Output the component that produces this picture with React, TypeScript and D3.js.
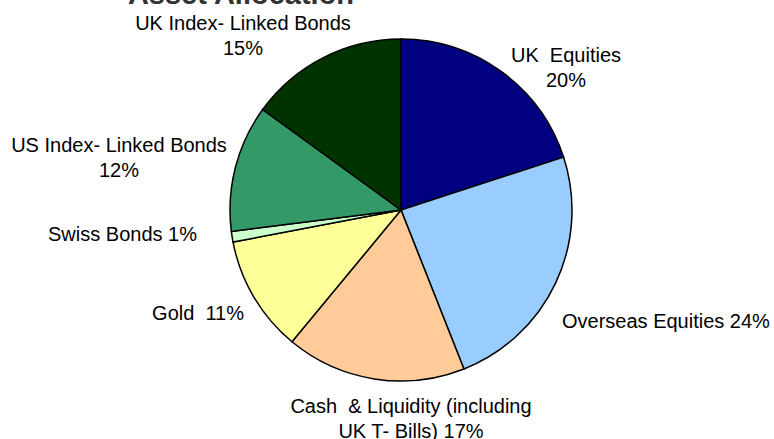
import React from "react";
import * as d3 from "d3";

const categories = [
  "UK Equities",
  "Overseas Equities",
  "Cash & Liquidity",
  "Gold",
  "Swiss Bonds",
  "US Index-Linked Bonds",
  "UK Index-Linked Bonds",
];
const values = [20, 24, 17, 11, 1, 12, 15];
const colors = ["#000080", "#99CCFF", "#FFCC99", "#FFFF99", "#CCFFCC", "#339966", "#003300"];
const labelLines = [
  ["UK  Equities", "20%"],
  ["Overseas Equities 24%"],
  ["Cash  & Liquidity (including", "UK T- Bills) 17%"],
  ["Gold  11%"],
  ["Swiss Bonds 1%"],
  ["US Index- Linked Bonds", "12%"],
  ["UK Index- Linked Bonds", "15%"],
];
// label anchor (x, first baseline y, text-anchor)
const labelPos: [number, number, string][] = [
  [566, 62, "middle"],
  [562, 328, "start"],
  [411, 413, "middle"],
  [244, 320, "end"],
  [197, 241, "end"],
  [119, 152, "middle"],
  [243, 30, "middle"],
];

export default function App() {
  const W = 774, H = 439;
  const cx = 401, cy = 210, r = 171;
  const pie = d3.pie<number>().sort(null).value((d) => d);
  const arcs = pie(values);
  const arc = d3.arc<d3.PieArcDatum<number>>().innerRadius(0).outerRadius(r);
  return (
    <svg width={W} height={H} style={{ position: "absolute", left: 0, top: 0, background: "#fff" }}
      fontFamily="'Liberation Sans', Arial, sans-serif">
      <text x={241} y={4} textAnchor="middle" fontSize={29} fontWeight="bold" fill="#333">
        Asset Allocation
      </text>
      <g transform={`translate(${cx},${cy})`}>
        {arcs.map((a, i) => (
          <path key={categories[i]} d={arc(a) || ""} fill={colors[i]} stroke="#000" strokeWidth={1.5} />
        ))}
      </g>
      {labelLines.map((lines, i) => (
        <text key={i} x={labelPos[i][0]} y={labelPos[i][1]} textAnchor={labelPos[i][2] as any}
          fontSize={20} fill="#000" style={{ whiteSpace: "pre" }}>
          {lines.map((l, j) => (
            <tspan key={j} x={labelPos[i][0]} dy={j === 0 ? 0 : 25}>{l}</tspan>
          ))}
        </text>
      ))}
    </svg>
  );
}
